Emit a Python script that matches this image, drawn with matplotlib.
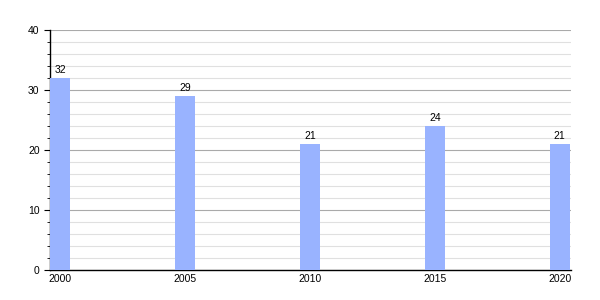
import matplotlib
matplotlib.use("Agg")
import matplotlib.pyplot as plt
from matplotlib.ticker import MultipleLocator

plt.rcParams['font.family'] = ['Liberation Sans', 'DejaVu Sans']

years = [2000, 2005, 2010, 2015, 2020]
values = [32, 29, 21, 24, 21]

fig = plt.figure(figsize=(6, 3), dpi=100)
ax = fig.add_axes([50 / 600, 30 / 300, 521 / 600, 240 / 300])

ax.bar(years, values, width=0.8, color="#99b3ff", zorder=3)
for x, v in zip(years, values):
    ax.text(x, v + 0.5, str(v), ha="center", va="bottom", fontsize=7.5, zorder=4)

ax.set_xlim(1999.6, 2020.45)
ax.set_ylim(0, 40)
ax.set_xticks(years)
ax.yaxis.set_major_locator(MultipleLocator(10))
ax.yaxis.set_minor_locator(MultipleLocator(2))
ax.grid(axis="y", which="major", color="#aaaaaa", linewidth=0.8, zorder=0)
ax.grid(axis="y", which="minor", color="#e0e0e0", linewidth=0.8, zorder=0)

for s in ("top", "right"):
    ax.spines[s].set_visible(False)
ax.spines["left"].set_linewidth(1)
ax.spines["bottom"].set_linewidth(1)
ax.tick_params(axis="x", length=0, labelsize=7.5, pad=3)
ax.tick_params(axis="y", which="major", length=4, labelsize=7.5)
ax.tick_params(axis="y", which="minor", length=2)

fig.savefig("out.png", dpi=100)
